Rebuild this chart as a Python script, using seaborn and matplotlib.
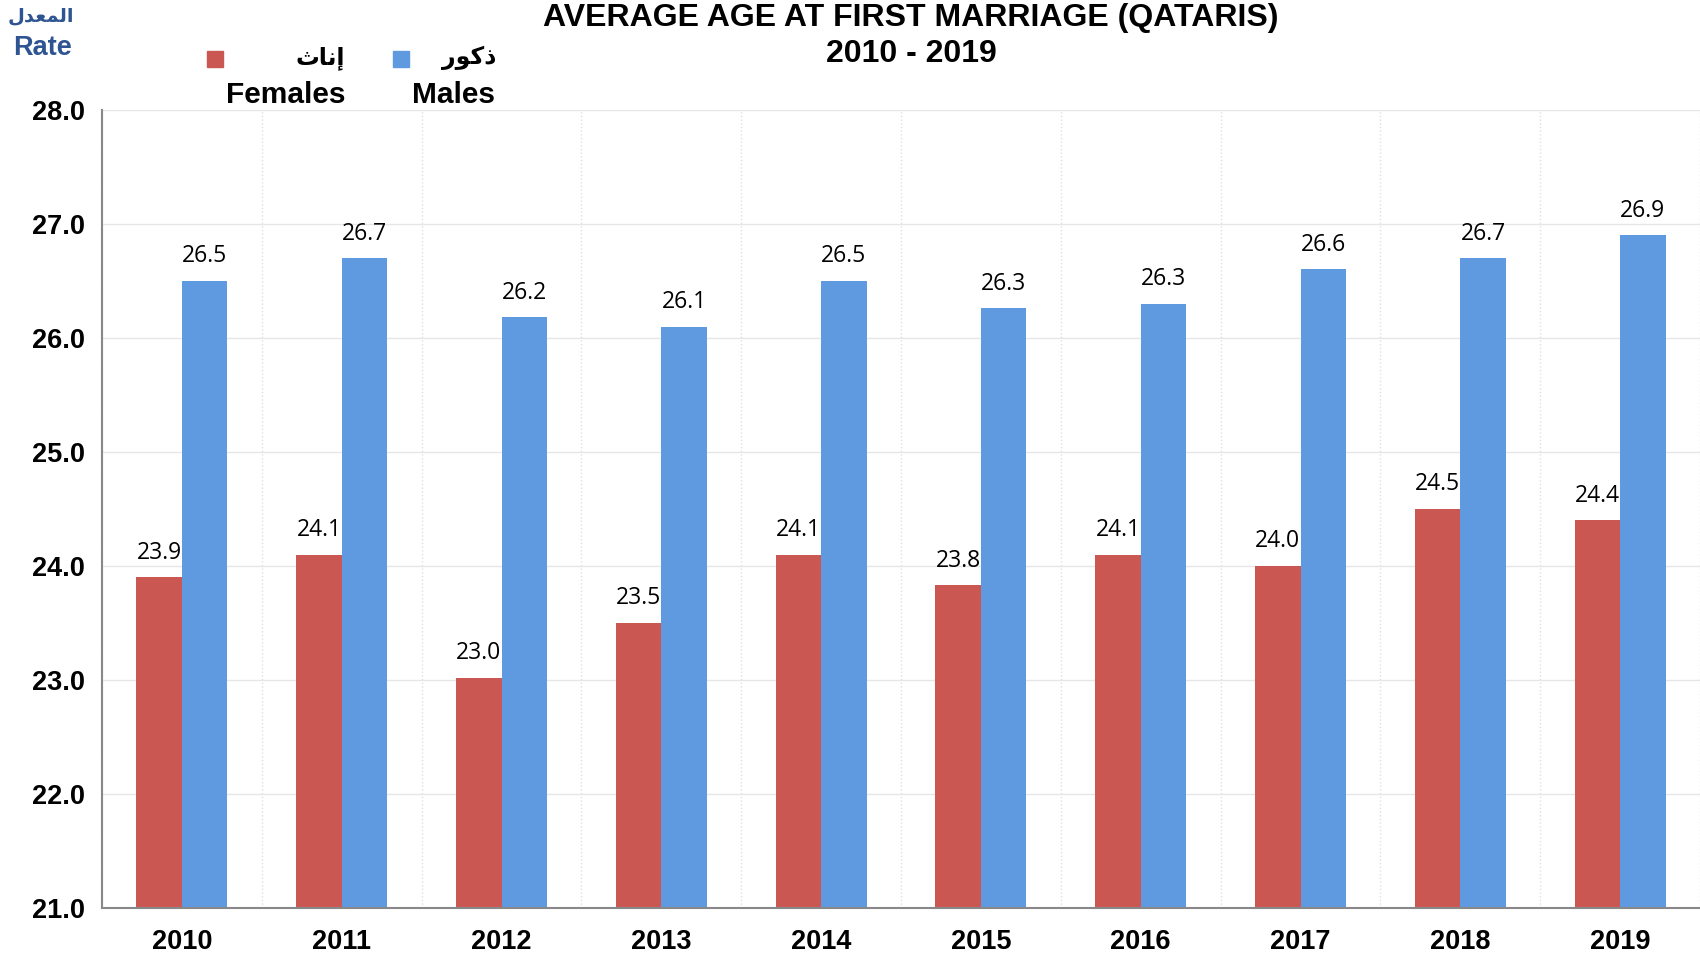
import numpy as np
import pandas as pd
import seaborn as sns
import matplotlib.pyplot as plt
from matplotlib.patches import Rectangle

# data
years = ['2010', '2011', '2012', '2013', '2014', '2015', '2016', '2017', '2018', '2019']
females = [23.9, 24.1, 23.02, 23.5, 24.1, 23.83, 24.1, 24.0, 24.5, 24.4]
males = [26.5, 26.7, 26.18, 26.1, 26.5, 26.26, 26.3, 26.6, 26.7, 26.9]
y_ticks = [21.0, 22.0, 23.0, 24.0, 25.0, 26.0, 27.0, 28.0]

# arabic labels, already shaped (presentation forms, visual order)
ar_rate = '\uFEDD\uFEAA\uFECC\uFEE4\uFEDF\uFE8D'      # المعدل
ar_females = '\uFE99\uFE8E\uFEE7\uFE87'              # إناث
ar_males = '\uFEAD\uFEEE\uFEDB\uFEAB'                # ذكور

red = '#CB5753'
blue = '#5F99E0'

sns.set_style('white')
plt.rcParams['font.family'] = ['Liberation Sans', 'DejaVu Sans']
plt.rcParams['text.color'] = 'black'
plt.rcParams['xtick.labelcolor'] = 'black'
plt.rcParams['ytick.labelcolor'] = 'black'

df = pd.DataFrame({
    'year': years * 2,
    'value': females + males,
    'sex': ['Females'] * len(years) + ['Males'] * len(years),
})

fig = plt.figure(figsize=(17, 9.57), dpi=100)
ax = fig.add_axes([0.06, 0.0512, 0.94, 0.834])

sns.barplot(data=df, x='year', y='value', hue='sex', palette=[red, blue],
            width=0.57, dodge=True, ax=ax, legend=False, saturation=1, linewidth=0)

for c in ax.containers:
    ax.bar_label(c, fmt='%.1f', padding=9, fontsize=16.5, family='Open Sans', color='black')

ax.set_ylim(21.0, 28.0)
ax.set_xlim(-0.5, 9.5)
ax.set_yticks(y_ticks)
ax.set_yticklabels([f'{v:.1f}' for v in y_ticks], fontsize=19.5, fontweight='bold')
ax.set_xticks(range(len(years)))
ax.set_xticklabels(years, fontsize=19.5, fontweight='bold')
ax.set_xticks(np.arange(-0.5, len(years), 1.0), minor=True)
ax.tick_params(axis='x', which='major', length=0, pad=15, labelcolor='black')
ax.tick_params(axis='x', which='minor', length=7, color='#888888', width=1.2)
ax.tick_params(axis='y', which='major', length=6, color='#888888', width=1.2, pad=6,
               labelcolor='black')
ax.set_xlabel('')
ax.set_ylabel('')

ax.grid(axis='y', color='#e6e6e6', linewidth=1)
ax.grid(axis='x', which='minor', color='#e0e0e0', linewidth=1, linestyle=':')
ax.set_axisbelow(True)

for s in ['top', 'right']:
    ax.spines[s].set_visible(False)
for s in ['left', 'bottom']:
    ax.spines[s].set_color('#888888')
    ax.spines[s].set_linewidth(1.5)

# title
fig.text(0.536, 0.9728, 'AVERAGE AGE AT FIRST MARRIAGE (QATARIS)', ha='center', va='baseline',
         fontsize=23, fontweight='bold')
fig.text(0.536, 0.9355, '2010 - 2019', ha='center', va='baseline', fontsize=23, fontweight='bold')

# axis unit label
fig.text(0.024, 0.984, ar_rate, ha='center', va='center', fontsize=14, fontweight='bold',
         color='#2E5591', family=['DejaVu Sans'])
fig.text(0.025, 0.950, 'Rate', ha='center', va='center', fontsize=19.5, fontweight='bold',
         color='#2E5591')

# legend
sq = 0.0095
fig.patches.append(Rectangle((0.1265 - sq / 2, 0.938 - sq * 17 / 9.57 / 2), sq, sq * 17 / 9.57,
                             transform=fig.transFigure, color=red))
fig.patches.append(Rectangle((0.2360 - sq / 2, 0.938 - sq * 17 / 9.57 / 2), sq, sq * 17 / 9.57,
                             transform=fig.transFigure, color=blue))
fig.text(0.203, 0.939, ar_females, ha='right', va='center', fontsize=17, fontweight='bold',
         family=['DejaVu Sans'])
fig.text(0.292, 0.939, ar_males, ha='right', va='center', fontsize=17, fontweight='bold',
         family=['DejaVu Sans'])
fig.text(0.168, 0.901, 'Females', ha='center', va='center', fontsize=21.5, fontweight='bold')
fig.text(0.267, 0.901, 'Males', ha='center', va='center', fontsize=21.5, fontweight='bold')

fig.savefig('out.png', dpi=100)
